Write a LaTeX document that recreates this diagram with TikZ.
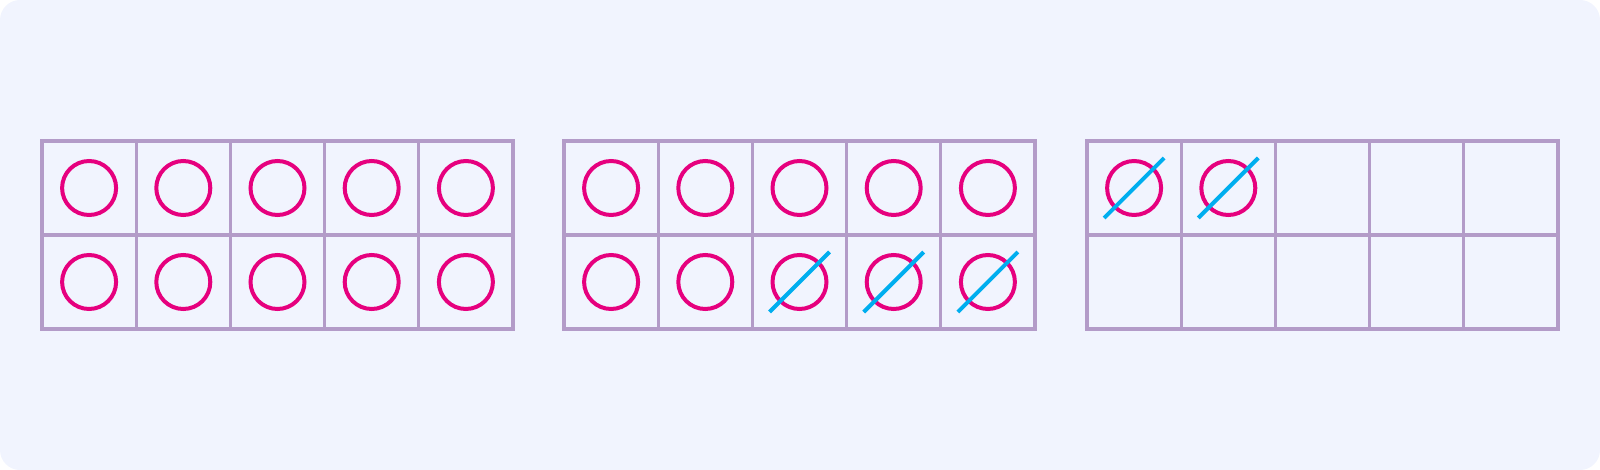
\documentclass[tikz,border=0pt]{standalone}
\definecolor{bgpaper}{HTML}{F1F4FE}
\definecolor{framepurple}{RGB}{179,155,200}
\definecolor{countpink}{RGB}{230,0,126}
\definecolor{crossblue}{RGB}{0,174,239}
\tikzset{
  frameline/.style={framepurple,line width=1.6pt,line cap=round},
  counter/.style={countpink,line width=2pt},
  crossout/.style={crossblue,line width=2pt}
}

\begin{document}
\begin{tikzpicture}[x=0.5pt,y=-0.5pt]
\fill[bgpaper,rounded corners=10pt] (0,0) rectangle (1600,470);
% three ten frames
\foreach \fx in {42,564,1087} {
  \draw[frameline] (\fx,141) rectangle ++(471,188);
  \draw[frameline] (\fx,235) -- ++(471,0);
  \foreach \c in {1,...,4}
    \draw[frameline] (\fx+\c*94.2,141) -- ++(0,188);
}
% counters, first and second frame full
\foreach \fx in {42,564}
  \foreach \c in {0,...,4}
    \foreach \r in {0,1}
      \draw[counter] (\fx+47.1+\c*94.2,188+\r*94) circle [radius=27];
% counters, third frame
\foreach \c in {0,1}
  \draw[counter] (1087+47.1+\c*94.2,188) circle [radius=27];
% crossed out counters
\foreach \cx/\cy in {799.5/282,893.7/282,987.9/282,1134.1/188,1228.3/188}
  \draw[crossout] (\cx-30,\cy+30) -- (\cx+30,\cy-30);
\end{tikzpicture}
\end{document}
